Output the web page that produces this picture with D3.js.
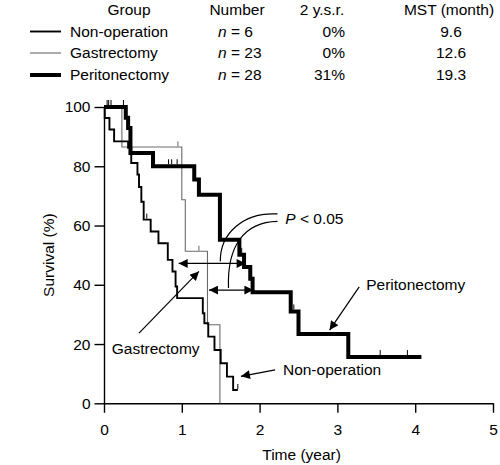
<!DOCTYPE html>
<html><head><meta charset="utf-8">
<script src="https://cdn.jsdelivr.net/npm/d3@7"></script>
<style>body{margin:0;background:#fff}svg{display:block;font-family:"Liberation Sans",Arial,sans-serif}</style>
</head><body>
<script>
// ---- data ----
const timeTicks = [0, 1, 2, 3, 4, 5];
const survTicks = [0, 20, 40, 60, 80, 100];
const groups = ["Non-operation", "Gastrectomy", "Peritonectomy"];
const nValues = [6, 23, 28];
const ysr = ["0%", "0%", "31%"];
const mst = ["9.6", "12.6", "19.3"];

// Kaplan-Meier steps: [time (year), survival (%)]
const nonOpSteps = [[0,100],[0.01,96.3],[0.07,92.4],[0.13,88.4],[0.31,86.2],[0.35,81.1],[0.43,77.2],[0.45,73],[0.48,68],[0.51,62],[0.60,58],[0.70,54],[0.82,48.4],[0.88,44.5],[0.92,39.4],[0.94,35.5],[1.27,30.4],[1.29,27],[1.34,22.5],[1.42,18],[1.50,13.5],[1.58,9],[1.66,4.5]];
const nonOpEnd = 1.72;
const nonOpCensor = [0.55, 1.72];

const gastSteps = [[0,100],[0.23,86.5],[1.00,68.7],[1.045,51.3],[1.33,26.5],[1.49,0]];
const gastEnd = 1.49;
const gastCensor = [0.95, 1.22];

const peritSteps = [[0,100],[0.28,96.4],[0.31,92.9],[0.34,84.5],[0.63,80],[1.16,75.5],[1.22,70.4],[1.49,55.2],[1.74,50.1],[1.80,46],[1.88,42],[1.91,37.5],[2.40,31],[2.50,23.4],[3.14,15.6]];
const peritEnd = 4.08;
const peritCensor = [0.04, 0.06, 0.09, 0.25, 0.83, 0.87, 0.94, 1.77, 2.44, 3.55, 3.9];

// ---- drawing ----
const W = 500, H = 465;
const svg = d3.select("body").append("svg").attr("width", W).attr("height", H);
const x = d3.scaleLinear().domain([0, 5]).range([104, 493]);
const y = d3.scaleLinear().domain([0, 100]).range([403.3, 107]);
const FS = "15.5px";

const defs = svg.append("defs");
defs.append("marker").attr("id", "ah").attr("markerUnits", "userSpaceOnUse")
  .attr("viewBox", "0 0 10 10").attr("refX", 10).attr("refY", 5)
  .attr("markerWidth", 10).attr("markerHeight", 9).attr("orient", "auto-start-reverse")
  .append("path").attr("d", "M0,0L10,5L0,10Z").attr("fill", "#000");

// axes
const gx = svg.append("g").attr("transform", `translate(0,${y(0)})`)
  .call(d3.axisBottom(x).tickValues(timeTicks).tickSize(9.5).tickSizeOuter(0).tickPadding(11).tickFormat(d3.format("d")));
const gy = svg.append("g").attr("transform", `translate(${x(0)},0)`)
  .call(d3.axisLeft(y).tickValues(survTicks).tickSize(9.5).tickSizeOuter(0).tickPadding(4));
[gx, gy].forEach(g => {
  g.selectAll("path,line").attr("stroke", "#000").attr("stroke-width", 1.4);
  g.selectAll("text").attr("font-size", FS).attr("fill", "#000").attr("font-family", null);
});
svg.append("text").attr("x", x(2.54)).attr("y", 460).attr("text-anchor", "middle").attr("font-size", FS).text("Time (year)");
svg.append("text").attr("transform", `translate(54,${(y(0) + y(100)) / 2}) rotate(-90)`).attr("text-anchor", "middle").attr("font-size", FS).text("Survival (%)");

// curves
const stepLine = d3.line().x(d => x(d[0])).y(d => y(d[1])).curve(d3.curveStepAfter);
function survAt(steps, t) { let s = steps[0][1]; for (const p of steps) if (p[0] <= t) s = p[1]; return s; }
const series = [
  { steps: gastSteps, end: gastEnd, censor: gastCensor, color: "#6a6a6a", w: 1.1 },
  { steps: nonOpSteps, end: nonOpEnd, censor: nonOpCensor, color: "#000", w: 1.9 },
  { steps: peritSteps, end: peritEnd, censor: peritCensor, color: "#000", w: 4 }
];
series.forEach(s => {
  const pts = s.steps.concat([[s.end, s.steps[s.steps.length - 1][1]]]);
  svg.append("path").attr("d", stepLine(pts)).attr("fill", "none").attr("stroke", s.color)
    .attr("stroke-width", s.w).attr("stroke-linejoin", "miter").attr("stroke-linecap", "butt");
  svg.append("g").selectAll("line").data(s.censor).join("line")
    .attr("x1", d => x(d)).attr("x2", d => x(d))
    .attr("y1", d => y(survAt(s.steps, d)) - s.w / 2).attr("y2", d => y(survAt(s.steps, d)) - s.w / 2 - 5)
    .attr("stroke", s.color).attr("stroke-width", 1);
});

// P-value double arrows: [t start, t end, survival]
const dArrows = [[0.96, 1.82, 47.2], [1.35, 1.92, 38.2]];
svg.append("g").selectAll("line").data(dArrows).join("line")
  .attr("x1", d => x(d[0])).attr("x2", d => x(d[1])).attr("y1", d => y(d[2])).attr("y2", d => y(d[2]))
  .attr("stroke", "#000").attr("stroke-width", 1.3)
  .attr("marker-start", "url(#ah)").attr("marker-end", "url(#ah)");

// connector curves from the P label to the arrows
const conn = [
  { s: [2.23, 63.9], c1: [1.78, 64.6], c2: [1.49, 57], e: [1.495, 47.9] },
  { s: [2.23, 61.4], c1: [1.80, 61.2], c2: [1.58, 53], e: [1.60, 38.9] }
];
conn.forEach(c => {
  const P = p => [x(p[0]), y(p[1])];
  svg.append("path").attr("d", `M${P(c.s)}C${P(c.c1)} ${P(c.c2)} ${P(c.e)}`)
    .attr("fill", "none").attr("stroke", "#000").attr("stroke-width", 1.2);
});
const pt = svg.append("text").attr("x", x(2.33)).attr("y", 224).attr("font-size", FS);
pt.append("tspan").attr("font-style", "italic").text("P");
pt.append("tspan").text(" < 0.05");

// labelled arrows (t, survival units)
const labels = [
  { text: "Gastrectomy", at: [0.10, 16.8], from: [0.45, 23.7], to: [1.22, 44.5] },
  { text: "Non-operation", at: [2.30, 9.6], from: [2.20, 11.3], to: [1.76, 9.1] },
  { text: "Peritonectomy", at: [3.37, 38.1], from: [3.28, 39.3], to: [2.90, 24.7] }
];
labels.forEach(l => {
  svg.append("text").attr("x", x(l.at[0])).attr("y", y(l.at[1])).attr("font-size", FS).text(l.text);
  svg.append("line").attr("x1", x(l.from[0])).attr("y1", y(l.from[1])).attr("x2", x(l.to[0])).attr("y2", y(l.to[1]))
    .attr("stroke", "#000").attr("stroke-width", 1.2).attr("marker-end", "url(#ah)");
});

// legend table
const hdrY = 15, rowY = [36.5, 58, 80];
const hdr = [["Group", 129], ["Number", 237], ["2 y.s.r.", 322], ["MST (month)", 449]];
svg.append("g").selectAll("text").data(hdr).join("text")
  .attr("x", d => d[1]).attr("y", hdrY).attr("text-anchor", "middle").attr("font-size", FS).text(d => d[0]);
const legW = [1.9, 1.1, 4], legC = ["#000", "#6a6a6a", "#000"];
groups.forEach((g, i) => {
  svg.append("line").attr("x1", 30).attr("x2", 61).attr("y1", rowY[i] - 5).attr("y2", rowY[i] - 5)
    .attr("stroke", legC[i]).attr("stroke-width", legW[i]);
  svg.append("text").attr("x", 70).attr("y", rowY[i]).attr("font-size", FS).text(g);
  const t = svg.append("text").attr("x", 218).attr("y", rowY[i]).attr("font-size", FS);
  t.append("tspan").attr("font-style", "italic").text("n");
  t.append("tspan").text(" = " + nValues[i]);
  svg.append("text").attr("x", 345).attr("y", rowY[i]).attr("text-anchor", "end").attr("font-size", FS).text(ysr[i]);
  svg.append("text").attr("x", 451).attr("y", rowY[i]).attr("text-anchor", "middle").attr("font-size", FS).text(mst[i]);
});
</script>
</body></html>
